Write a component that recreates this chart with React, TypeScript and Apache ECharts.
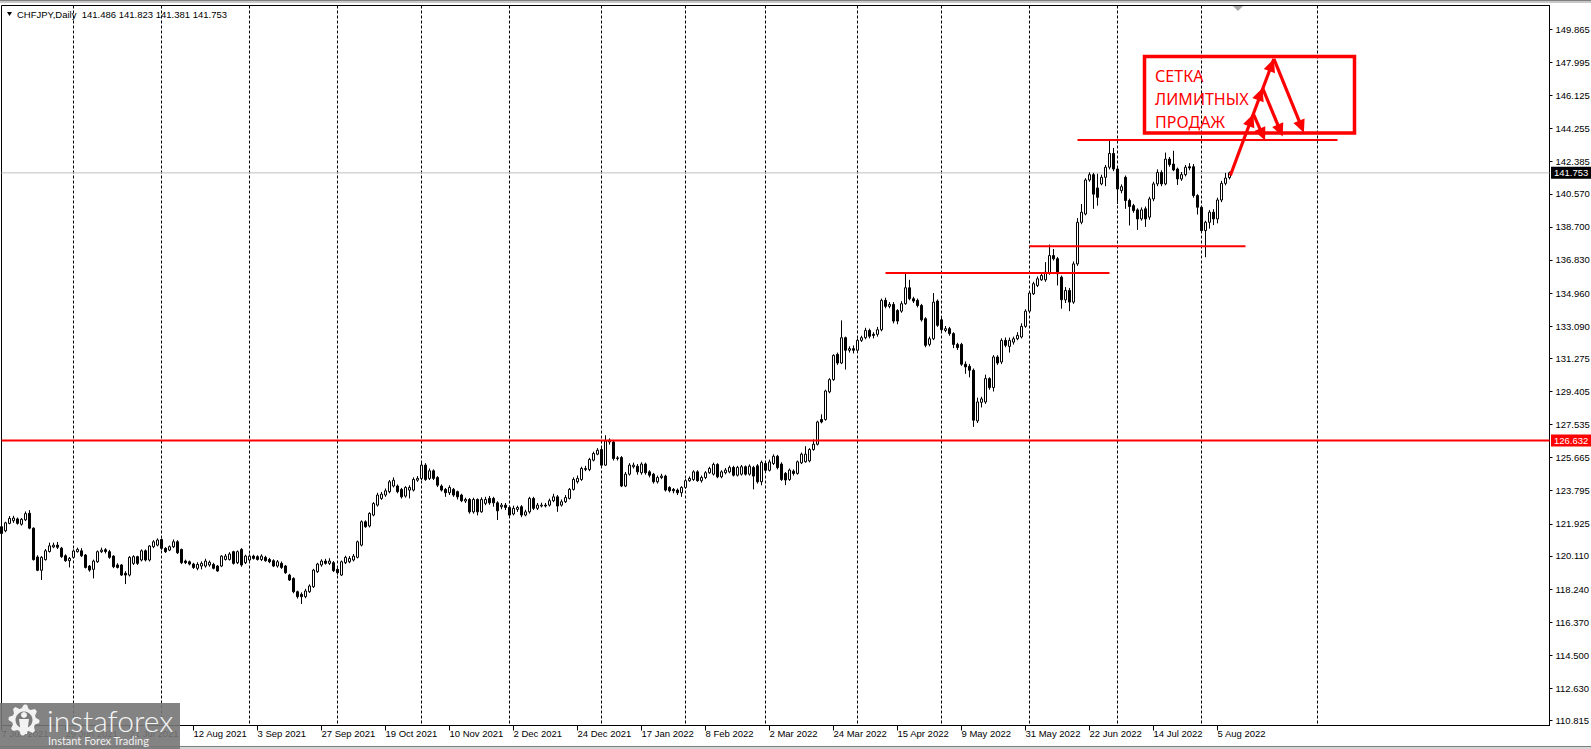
import React, { useEffect, useRef } from 'react';
import * as echarts from 'echarts';

// Daily CHFJPY bars, one array per month: [open, close, low, high]
const jun2021 = [
  [121.76, 121.38, 121.29, 121.85], [121.53, 121.98, 121.45, 122.04], [121.95, 122.23, 121.90, 122.36],
  [122.10, 122.25, 121.98, 122.38], [122.20, 121.95, 121.88, 122.28], [121.90, 122.18, 121.82, 122.25],
  [122.15, 122.50, 122.08, 122.62], [122.52, 121.68, 121.62, 122.70], [121.68, 119.90, 119.85, 121.72],
  [120.05, 119.30, 119.25, 120.15], [119.30, 120.03, 118.75, 120.10], [119.90, 120.40, 119.85, 120.50],
  [120.36, 120.68, 120.30, 120.86], [120.62, 120.72, 120.55, 120.86], [120.72, 120.60, 120.50, 120.90],
  [120.55, 120.07, 120.00, 120.62], [120.12, 119.84, 119.78, 120.20], [119.84, 119.97, 119.46, 120.05],
];
const jul2021 = [
  [120.03, 120.39, 119.97, 120.48], [120.35, 120.48, 120.30, 120.58], [120.40, 120.12, 120.05, 120.55],
  [120.16, 119.46, 119.40, 120.22], [119.54, 119.31, 119.22, 119.60], [119.35, 119.82, 118.84, 119.90],
  [119.78, 120.35, 119.72, 120.42], [120.35, 120.44, 120.28, 120.58], [120.46, 120.36, 120.25, 120.55],
  [120.35, 120.03, 119.95, 120.45], [120.10, 119.50, 119.42, 120.15], [119.60, 119.46, 119.40, 119.70],
  [119.60, 119.03, 118.98, 119.65], [119.13, 119.03, 118.52, 119.25], [119.03, 120.03, 118.95, 120.10],
  [119.69, 120.07, 119.60, 120.15], [120.07, 119.69, 119.60, 120.12], [119.88, 120.40, 119.80, 120.48],
  [120.40, 119.88, 119.80, 120.48], [119.88, 120.67, 119.80, 120.72], [120.63, 120.91, 120.55, 121.00],
  [120.72, 121.01, 120.65, 121.10],
];
const aug2021 = [
  [121.04, 120.54, 120.45, 121.08], [120.54, 120.35, 120.28, 120.60], [120.44, 120.63, 120.38, 120.70],
  [120.63, 120.91, 120.55, 121.04], [120.91, 120.29, 120.22, 121.00], [120.48, 119.73, 119.65, 120.52],
  [119.82, 119.73, 119.65, 119.90], [119.78, 119.65, 119.58, 119.85], [119.65, 119.46, 119.38, 119.72],
  [119.41, 119.63, 119.30, 119.75], [119.54, 119.69, 119.35, 119.80], [119.54, 119.82, 119.45, 119.95],
  [119.60, 119.75, 119.50, 119.85], [119.63, 119.41, 119.35, 119.72], [119.54, 119.26, 119.22, 119.60],
  [119.54, 120.10, 119.48, 120.15], [119.91, 120.10, 119.85, 120.22], [119.91, 120.22, 119.85, 120.32],
  [120.35, 119.69, 119.62, 120.40], [119.73, 120.35, 119.65, 120.42], [120.48, 119.60, 119.50, 120.55],
  [119.73, 120.10, 119.65, 120.18],
];
const sep2021 = [
  [119.88, 120.10, 119.80, 120.20], [120.10, 119.97, 119.90, 120.18], [120.07, 119.91, 119.85, 120.15],
  [119.91, 120.10, 119.82, 120.20], [120.03, 119.84, 119.78, 120.12], [119.91, 119.78, 119.70, 120.00],
  [119.84, 119.54, 119.48, 119.92], [119.54, 119.78, 119.45, 119.88], [119.69, 119.46, 119.38, 119.80],
  [119.54, 119.16, 119.10, 119.60], [119.03, 118.75, 118.70, 119.10], [118.84, 118.09, 118.00, 118.90],
  [118.09, 117.81, 117.70, 118.15], [117.94, 117.81, 117.40, 118.05], [117.81, 118.13, 117.72, 118.25],
  [118.09, 118.41, 118.02, 118.50], [118.37, 119.31, 118.30, 119.38], [119.22, 119.65, 119.15, 119.72],
  [119.60, 119.82, 119.50, 119.92], [119.82, 119.69, 119.62, 119.95], [119.69, 119.82, 119.60, 119.98],
  [119.73, 119.28, 119.20, 119.82],
];
const oct2021 = [
  [119.35, 119.16, 119.05, 119.45], [119.03, 119.78, 118.98, 119.85], [119.73, 120.03, 119.65, 120.12],
  [119.78, 119.97, 119.70, 120.10], [119.88, 120.10, 119.80, 120.22], [120.03, 120.91, 119.97, 120.98],
  [120.72, 122.04, 120.65, 122.12], [122.04, 121.76, 121.70, 122.12], [121.80, 122.51, 121.72, 122.58],
  [122.42, 123.07, 122.35, 123.15], [122.98, 123.55, 122.90, 123.68], [123.36, 123.60, 123.28, 123.72],
  [123.55, 123.79, 123.45, 123.92], [123.74, 124.30, 123.65, 124.40], [124.06, 124.39, 123.98, 124.55],
  [124.06, 123.74, 123.65, 124.15], [123.87, 123.45, 123.35, 123.95], [123.49, 123.98, 123.40, 124.05],
  [123.83, 123.98, 123.36, 124.10], [123.83, 124.43, 123.75, 124.55], [124.39, 124.49, 124.30, 124.62],
];
const nov2021 = [
  [124.49, 125.24, 124.40, 125.43], [125.24, 124.43, 124.35, 125.35], [124.49, 124.92, 124.40, 125.05],
  [124.92, 124.49, 124.40, 125.00], [124.54, 124.11, 124.00, 124.62], [124.06, 123.83, 123.75, 124.15],
  [123.87, 123.68, 123.45, 123.95], [123.68, 123.98, 123.55, 124.10], [123.87, 123.55, 123.45, 123.95],
  [123.74, 123.45, 123.30, 123.80], [123.55, 123.23, 123.15, 123.62], [123.21, 123.30, 123.10, 123.40],
  [123.30, 122.60, 122.50, 123.38], [122.60, 123.30, 122.50, 123.40], [123.30, 122.60, 122.40, 123.36],
  [122.60, 123.30, 122.55, 123.42], [123.08, 123.30, 122.98, 123.45], [123.36, 123.11, 123.00, 123.50],
  [123.36, 123.11, 122.89, 123.45], [123.11, 122.66, 122.14, 123.20], [122.89, 122.98, 122.75, 123.10],
  [122.98, 122.85, 122.70, 123.10],
];
const dec2021 = [
  [122.85, 122.42, 122.30, 122.95], [122.48, 122.80, 122.40, 122.95], [122.74, 122.85, 122.60, 122.95],
  [122.89, 122.42, 122.30, 122.98], [122.42, 122.60, 122.35, 122.72], [122.60, 123.36, 122.50, 123.45],
  [123.36, 122.80, 122.70, 123.45], [122.80, 122.98, 122.70, 123.10], [122.93, 122.98, 122.85, 123.12],
  [122.98, 122.93, 122.85, 123.10], [122.98, 123.23, 122.90, 123.35], [123.23, 123.45, 123.15, 123.62],
  [123.45, 122.93, 122.60, 123.55], [122.98, 123.17, 122.90, 123.30], [123.17, 123.41, 123.10, 123.55],
  [123.36, 123.87, 123.30, 123.95], [123.87, 124.43, 123.80, 124.55], [124.30, 124.49, 124.20, 124.65],
  [124.43, 125.05, 124.35, 125.15], [124.99, 125.05, 124.90, 125.20], [124.99, 125.56, 124.90, 125.65],
  [125.52, 125.90, 125.45, 126.00], [125.86, 126.08, 125.80, 126.20],
];
const jan2022 = [
  [126.12, 125.24, 125.15, 126.22], [125.24, 126.61, 125.20, 126.93], [126.55, 126.65, 126.40, 126.75],
  [126.55, 125.61, 125.50, 126.65], [125.65, 125.61, 125.50, 125.75], [125.67, 124.06, 124.00, 125.75],
  [124.06, 124.73, 124.00, 124.85], [124.73, 125.24, 124.65, 125.35], [125.15, 125.24, 125.05, 125.38],
  [125.18, 124.86, 124.70, 125.30], [124.81, 125.30, 124.70, 125.40], [125.30, 124.81, 124.70, 125.38],
  [124.86, 124.67, 124.55, 124.95], [124.73, 124.30, 124.20, 124.80], [124.30, 124.54, 124.20, 124.65],
  [124.54, 124.62, 124.45, 124.75], [124.62, 123.83, 123.75, 124.70], [123.98, 123.79, 123.70, 124.05],
  [123.87, 123.79, 123.65, 123.95], [123.83, 123.68, 123.55, 123.92], [123.68, 123.98, 123.45, 124.05],
];
const feb2022 = [
  [123.98, 124.36, 123.90, 124.45], [124.36, 124.49, 124.30, 124.60], [124.43, 124.86, 124.35, 124.95],
  [124.86, 124.36, 124.30, 124.95], [124.36, 124.54, 124.25, 124.65], [124.54, 124.81, 124.45, 124.90],
  [124.81, 125.05, 124.75, 125.15], [124.73, 125.28, 124.65, 125.38], [125.28, 124.58, 124.50, 125.35],
  [124.58, 124.86, 124.50, 124.95], [124.81, 124.96, 124.72, 125.08], [124.86, 125.11, 124.78, 125.22],
  [125.11, 124.67, 124.60, 125.20], [124.67, 125.11, 124.60, 125.20], [124.73, 125.15, 124.65, 125.25],
  [125.15, 124.73, 124.65, 125.22], [124.73, 125.18, 124.65, 125.28], [125.11, 124.62, 123.87, 125.20],
  [125.20, 124.30, 124.20, 125.30], [124.30, 125.40, 124.10, 125.50],
];
const mar2022 = [
  [125.33, 124.95, 124.85, 125.45], [124.95, 125.42, 124.88, 125.55], [125.33, 125.74, 125.25, 125.85],
  [125.74, 125.10, 125.00, 125.82], [125.30, 124.43, 124.35, 125.40], [124.77, 124.40, 124.11, 124.85],
  [124.43, 124.96, 124.35, 125.05], [124.90, 124.77, 124.65, 125.00], [124.77, 125.43, 124.70, 125.50],
  [125.37, 125.86, 125.30, 125.95], [125.43, 125.86, 125.38, 126.31], [125.48, 126.12, 125.40, 126.20],
  [126.12, 126.42, 126.05, 126.69], [126.42, 127.68, 126.35, 127.75], [127.82, 127.68, 127.60, 128.11],
  [127.82, 129.43, 127.75, 129.50], [129.38, 130.07, 129.30, 130.15], [130.07, 131.44, 130.00, 131.50],
  [131.50, 131.01, 130.90, 131.60], [131.01, 132.44, 130.95, 133.42], [132.44, 131.73, 130.64, 132.50],
  [131.73, 131.82, 131.60, 131.95], [131.82, 131.73, 131.55, 132.00],
];
const apr2022 = [
  [131.73, 132.29, 131.65, 132.40], [132.29, 132.44, 132.20, 132.55], [132.44, 132.85, 132.35, 133.00],
  [132.85, 132.52, 132.40, 132.95], [132.63, 132.57, 132.40, 132.75], [132.63, 132.89, 132.50, 133.05],
  [132.89, 134.55, 132.80, 134.65], [134.55, 134.21, 134.10, 134.70], [134.21, 134.32, 134.10, 134.45],
  [134.32, 133.38, 133.25, 134.45], [133.98, 133.38, 133.20, 134.05], [133.94, 134.36, 133.85, 134.50],
  [134.36, 135.26, 134.30, 136.05], [135.26, 134.64, 134.55, 135.71], [134.64, 134.51, 134.40, 134.75],
  [134.55, 134.26, 134.15, 134.65], [134.26, 133.45, 133.35, 134.35], [133.51, 132.01, 131.90, 133.60],
  [132.06, 132.38, 131.95, 132.50], [132.38, 134.45, 132.30, 134.96], [134.51, 133.14, 133.05, 134.60],
];
const may2022 = [
  [133.45, 132.89, 132.80, 133.55], [132.85, 132.95, 132.75, 133.10], [132.95, 132.67, 132.55, 133.05],
  [132.67, 132.06, 131.85, 132.75], [132.06, 131.88, 131.75, 132.15], [132.06, 130.94, 130.85, 132.15],
  [130.94, 130.79, 130.40, 131.10], [130.82, 130.60, 130.20, 130.95], [130.60, 127.78, 127.40, 130.70],
  [127.74, 128.81, 127.62, 129.05], [128.79, 128.98, 128.50, 129.10], [128.81, 130.13, 128.70, 130.35],
  [130.13, 129.62, 129.50, 130.20], [129.62, 131.35, 129.40, 131.45], [131.35, 131.01, 130.90, 131.45],
  [131.07, 132.29, 130.95, 132.40], [132.29, 132.01, 131.90, 132.45], [131.95, 132.29, 131.60, 132.45],
  [132.19, 132.38, 132.05, 132.50], [132.38, 132.57, 132.30, 132.75], [132.48, 133.08, 132.40, 133.25],
  [133.08, 133.94, 133.00, 134.05],
];
const jun2022 = [
  [133.94, 134.96, 133.85, 135.05], [134.92, 135.49, 134.85, 135.60], [135.39, 135.77, 135.30, 135.90],
  [135.71, 135.96, 135.65, 136.10], [135.71, 136.14, 135.60, 136.71], [136.09, 137.08, 136.00, 137.70],
  [137.08, 136.90, 136.80, 137.45], [136.90, 136.05, 135.39, 137.00], [135.86, 134.58, 134.08, 135.95],
  [134.58, 135.11, 134.40, 135.30], [135.11, 134.45, 133.94, 135.25], [134.45, 136.61, 134.35, 136.75],
  [136.61, 138.96, 136.50, 139.20], [138.96, 139.53, 138.85, 139.99], [139.43, 141.35, 139.35, 141.45],
  [141.35, 141.65, 141.25, 141.78], [141.65, 140.55, 139.72, 141.75], [140.90, 140.37, 139.90, 141.70],
  [141.13, 141.50, 141.05, 141.65], [141.50, 142.07, 141.00, 142.20], [142.07, 142.85, 141.95, 143.61],
  [142.85, 141.97, 141.85, 143.16],
];
const jul2022 = [
  [141.97, 140.84, 139.99, 142.05], [140.75, 140.97, 140.60, 141.10], [141.50, 140.19, 139.72, 141.60],
  [140.19, 139.85, 138.78, 140.30], [139.90, 139.62, 139.50, 140.00], [139.66, 139.15, 138.53, 139.75],
  [139.15, 139.66, 139.05, 139.80], [139.72, 139.15, 138.70, 139.85], [139.25, 140.28, 139.10, 140.40],
  [140.28, 141.13, 140.15, 141.25], [141.13, 141.78, 141.00, 141.95], [141.78, 141.13, 141.00, 141.90],
  [141.13, 142.53, 141.05, 142.90], [142.53, 142.22, 142.10, 142.65], [142.25, 141.92, 141.85, 143.00],
  [141.97, 141.41, 141.07, 142.05], [141.41, 141.65, 141.30, 141.80], [141.65, 142.07, 141.55, 142.20],
  [142.10, 142.03, 141.90, 142.30], [142.10, 140.47, 140.35, 142.25], [140.47, 139.81, 139.40, 140.55],
];
const aug2022 = [
  [139.81, 138.49, 138.35, 139.90], [138.49, 138.96, 136.99, 139.05], [138.96, 139.53, 138.60, 139.65],
  [139.53, 139.15, 138.80, 139.70], [139.15, 140.22, 138.90, 140.35], [140.22, 141.16, 140.10, 141.30],
  [141.16, 141.46, 141.05, 141.75], [141.486, 141.753, 141.381, 141.823],
];

const candles = [
  ...jun2021, ...jul2021, ...aug2021, ...sep2021, ...oct2021, ...nov2021, ...dec2021,
  ...jan2022, ...feb2022, ...mar2022, ...apr2022, ...may2022, ...jun2022, ...jul2022, ...aug2022,
];

const FIRST_BAR_DATE = '2021-06-07';
const FUTURE_SLOTS = 80;
const LABEL_EVERY = 16;

const titleText = 'CHFJPY,Daily';
const lastQuote = ['141.486', '141.823', '141.381', '141.753'];

const priceTicks = [
  110.815, 112.63, 114.5, 116.37, 118.24, 120.11, 121.925, 123.795, 125.665, 127.535, 129.405,
  131.275, 133.09, 134.96, 136.83, 138.7, 140.57, 142.385, 144.255, 146.125, 147.995, 149.865,
];
const priceMin = 110.53;
const priceMax = 151.208;

const supportLevel = 126.632;
const lastPrice = 141.753;
// horizontal segments: [startBar, endBar, price]
const levelA = [221, 277, 136.09];
const levelB = [257, 311, 137.6];
const levelC = [269, 334, 143.61];

const noteLines = ['СЕТКА', 'ЛИМИТНЫХ', 'ПРОДАЖ'];
const noteLineBar = 288.4;
const noteLinePrices = [147.23, 145.91, 144.64];
const noteBox = [[285.75, 148.33], [338.25, 144.0]];
const arrowStart = [307.2, 141.6];
const arrowPeaks = [[312.95, 145.08], [315.25, 146.55], [318.1, 148.19]];
const arrowTargets = [[315.9, 143.58], [320.3, 143.8], [325.6, 144.02]];

const MONTHS = ['Jan', 'Feb', 'Mar', 'Apr', 'May', 'Jun', 'Jul', 'Aug', 'Sep', 'Oct', 'Nov', 'Dec'];

function buildDates() {
  const out: Date[] = [];
  const d = new Date(FIRST_BAR_DATE + 'T00:00:00Z');
  while (out.length < candles.length) {
    const wd = d.getUTCDay();
    if (wd !== 0 && wd !== 6) out.push(new Date(d.getTime()));
    d.setUTCDate(d.getUTCDate() + 1);
  }
  for (let k = 0; k < FUTURE_SLOTS; k++) {
    out.push(new Date(d.getTime()));
    d.setUTCDate(d.getUTCDate() + 1);
  }
  return out;
}

const AXIS_FONT = '"Liberation Sans", Arial, sans-serif';
const RED = '#ff0000';

function head(tip: number[], from: number[], len: number, half: number) {
  const dx = tip[0] - from[0];
  const dy = tip[1] - from[1];
  const L = Math.hypot(dx, dy) || 1;
  const ux = dx / L, uy = dy / L;
  const bx = tip[0] - ux * len, by = tip[1] - uy * len;
  return [[tip[0], tip[1]], [bx - uy * half, by + ux * half], [bx + uy * half, by - ux * half]];
}

export default function App() {
  const ref = useRef<HTMLDivElement>(null);

  useEffect(() => {
    if (!ref.current) return;
    const chart = echarts.init(ref.current, null, { renderer: 'svg' });
    const dates = buildDates();
    const cats = dates.map((d) => `${d.getUTCDate()} ${MONTHS[d.getUTCMonth()]} ${d.getUTCFullYear()}`);
    const gridIdx = new Set<number>();
    for (let i = 1; i < dates.length; i++) {
      if (dates[i].getUTCMonth() !== dates[i - 1].getUTCMonth() && i < 340) gridIdx.add(i);
    }
    const lastLabel = Math.floor((candles.length - 1) / LABEL_EVERY) * LABEL_EVERY;
    const showLabel = (i: number) => i % LABEL_EVERY === 0 && i <= lastLabel;

    const seg = (lv: number[]) => [[lv[0], lv[2]], [lv[1], lv[2]]];
    const lineSeries = (data: number[][], color: string, width: number, z: number) => ({
      type: 'line', data, symbol: 'none', silent: true, z,
      lineStyle: { color, width }, emphasis: { disabled: true },
    });

    const option: any = {
      animation: false,
      backgroundColor: '#ffffff',
      grid: {
        left: 1.5, top: 5.5, width: 1548, height: 720, show: true,
        borderColor: '#000', borderWidth: 1, backgroundColor: '#fff',
        containLabel: false, outerBoundsMode: 'none',
      },
      xAxis: {
        type: 'category', data: cats, boundaryGap: false,
        axisLine: { show: true, lineStyle: { color: '#000', width: 1 } },
        axisTick: { show: true, interval: (i: number) => showLabel(i), length: 5, lineStyle: { color: '#000' } },
        axisLabel: {
          show: true, interval: (i: number) => showLabel(i), align: 'left', margin: 3,
          padding: [0, 0, 0, 0], color: '#000', fontSize: 9.5, fontFamily: AXIS_FONT,
        },
        splitLine: {
          show: true, interval: (i: number) => gridIdx.has(i),
          lineStyle: { color: '#000', width: 1, type: [3, 2] },
        },
      },
      yAxis: {
        type: 'value', position: 'right', min: priceMin, max: priceMax, scale: true,
        axisLine: { show: true, lineStyle: { color: '#000', width: 1 } },
        axisTick: { show: true, length: 3, customValues: priceTicks, lineStyle: { color: '#000' } },
        axisLabel: {
          show: true, customValues: priceTicks, margin: 6, color: '#000', fontSize: 9.5,
          fontFamily: AXIS_FONT, formatter: (v: number) => v.toFixed(3),
        },
        splitLine: { show: false },
      },
      series: [
        lineSeries([[0, lastPrice], [cats.length - 1, lastPrice]], '#c0c0c0', 1, 1),
        {
          type: 'candlestick', data: candles, barWidth: 2, z: 2, silent: true,
          itemStyle: {
            color: '#ffffff', color0: '#000000', borderColor: '#000000', borderColor0: '#000000',
            borderColorDoji: '#000000', borderWidth: 1,
          },
          emphasis: { disabled: true },
        },
        lineSeries([[0, supportLevel], [cats.length - 1, supportLevel]], RED, 2, 3),
        lineSeries(seg(levelA), RED, 2, 3),
        lineSeries(seg(levelB), RED, 2, 3),
        lineSeries(seg(levelC), RED, 2, 3),
      ],
    };
    chart.setOption(option);

    const x0 = (chart.convertToPixel({ gridIndex: 0 }, [0, priceMin]) as number[])[0];
    const x1 = (chart.convertToPixel({ gridIndex: 0 }, [1, priceMin]) as number[])[0];
    const step = x1 - x0;
    const toPx = (b: number, p: number) => [x0 + step * b, chart.convertToPixel({ yAxisIndex: 0 }, p) as number];

    const g: any[] = [];
    // window chrome
    g.push({ type: 'rect', shape: { x: 0, y: 0, width: 1591, height: 1 }, style: { fill: '#808080' }, silent: true, z: 50 });
    g.push({ type: 'rect', shape: { x: 0, y: 1, width: 1591, height: 2 }, style: { fill: '#c8c8c8' }, silent: true, z: 50 });
    g.push({ type: 'rect', shape: { x: 0, y: 746, width: 1591, height: 1 }, style: { fill: '#808080' }, silent: true, z: 50 });
    g.push({ type: 'rect', shape: { x: 0, y: 747, width: 1591, height: 2 }, style: { fill: '#d4d4d4' }, silent: true, z: 50 });
    // chart-shift marker
    g.push({ type: 'polygon', shape: { points: [[1233, 6], [1243, 6], [1238, 11]] }, style: { fill: '#a8a8a8' }, silent: true, z: 50 });

    // title
    g.push({ type: 'polygon', shape: { points: [[7, 12], [12, 12], [9.5, 16]] }, style: { fill: '#000' }, silent: true, z: 50 });
    g.push({
      type: 'text', x: 17, y: 14, silent: true, z: 50,
      style: { text: `${titleText}  ${lastQuote.join(' ')}`, fill: '#000', font: `9.5px ${AXIS_FONT}`, verticalAlign: 'middle' },
    });

    // price tags on the right axis
    const tag = (price: number, bg: string, text: string) => {
      const y = toPx(0, price)[1];
      g.push({ type: 'rect', shape: { x: 1551, y: y - 6, width: 40, height: 12 }, style: { fill: bg }, silent: true, z: 60 });
      g.push({
        type: 'text', x: 1554, y, silent: true, z: 61,
        style: { text, fill: '#fff', font: `9.5px ${AXIS_FONT}`, verticalAlign: 'middle' },
      });
    };
    tag(lastPrice, '#000000', lastPrice.toFixed(3));
    tag(supportLevel, RED, supportLevel.toFixed(3));

    // annotation box
    const b0 = toPx(noteBox[0][0], noteBox[0][1]);
    const b1 = toPx(noteBox[1][0], noteBox[1][1]);
    g.push({
      type: 'rect', shape: { x: b0[0], y: b0[1], width: b1[0] - b0[0], height: b1[1] - b0[1] },
      style: { fill: 'none', stroke: RED, lineWidth: 3.5 }, silent: true, z: 40,
    });
    noteLines.forEach((t, k) => {
      const p = toPx(noteLineBar, noteLinePrices[k]);
      g.push({
        type: 'text', x: p[0], y: p[1], silent: true, z: 41,
        style: { text: t, fill: RED, font: '16px "Noto Sans", "Open Sans", sans-serif', verticalAlign: 'middle' },
      });
    });

    // arrows
    const s = toPx(arrowStart[0], arrowStart[1]);
    const peaks = arrowPeaks.map((p) => toPx(p[0], p[1]));
    const targets = arrowTargets.map((p) => toPx(p[0], p[1]));
    const top = peaks[peaks.length - 1];
    const lw = 3.2;
    g.push({ type: 'line', shape: { x1: s[0], y1: s[1], x2: top[0], y2: top[1] }, style: { stroke: RED, lineWidth: lw }, silent: true, z: 42 });
    peaks.forEach((p) => {
      g.push({ type: 'polygon', shape: { points: head(p, s, 13, 6) }, style: { fill: RED }, silent: true, z: 43 });
    });
    peaks.forEach((p, k) => {
      const t = targets[k];
      const dx = t[0] - p[0], dy = t[1] - p[1];
      const L = Math.hypot(dx, dy);
      const ex = t[0] - (dx / L) * 10, ey = t[1] - (dy / L) * 10;
      g.push({ type: 'line', shape: { x1: p[0], y1: p[1], x2: ex, y2: ey }, style: { stroke: RED, lineWidth: lw }, silent: true, z: 42 });
      g.push({ type: 'polygon', shape: { points: head(t, p, 13, 6) }, style: { fill: RED }, silent: true, z: 43 });
    });

    // watermark logo
    g.push({ type: 'rect', shape: { x: 0, y: 703, width: 180, height: 46 }, style: { fill: 'rgba(118,118,118,0.9)' }, silent: true, z: 80 });
    const gear: number[][] = [];
    const teeth = 8;
    for (let k = 0; k < teeth * 4; k++) {
      const a = (k / (teeth * 4)) * Math.PI * 2;
      const r = k % 4 < 2 ? 15.5 : 12;
      gear.push([24 + r * Math.cos(a), 720 + r * Math.sin(a)]);
    }
    g.push({ type: 'polygon', shape: { points: gear }, style: { fill: '#f2f2f2' }, silent: true, z: 81 });
    g.push({ type: 'circle', shape: { cx: 24, cy: 720, r: 8.5 }, style: { fill: '#7a7a7a' }, silent: true, z: 82 });
    g.push({ type: 'circle', shape: { cx: 24, cy: 715, r: 3 }, style: { fill: '#f2f2f2' }, silent: true, z: 83 });
    g.push({ type: 'polygon', shape: { points: [[19, 719], [29, 719], [27, 734], [21, 734]] }, style: { fill: '#f2f2f2' }, silent: true, z: 83 });
    g.push({
      type: 'text', x: 47, y: 720, silent: true, z: 84,
      style: { text: 'instaforex', fill: '#f4f4f4', font: '300 30px Lato, "Open Sans", sans-serif', verticalAlign: 'middle' },
    });
    g.push({
      type: 'text', x: 48, y: 740, silent: true, z: 84,
      style: { text: 'Instant Forex Trading', fill: '#f0f0f0', font: '11px Lato, "Open Sans", sans-serif', verticalAlign: 'middle' },
    });

    chart.setOption({ graphic: { elements: g } });

    return () => chart.dispose();
  }, []);

  return (
    <div
      ref={ref}
      style={{ position: 'fixed', left: 0, top: 0, width: 1591, height: 749, background: '#fff' }}
    />
  );
}
